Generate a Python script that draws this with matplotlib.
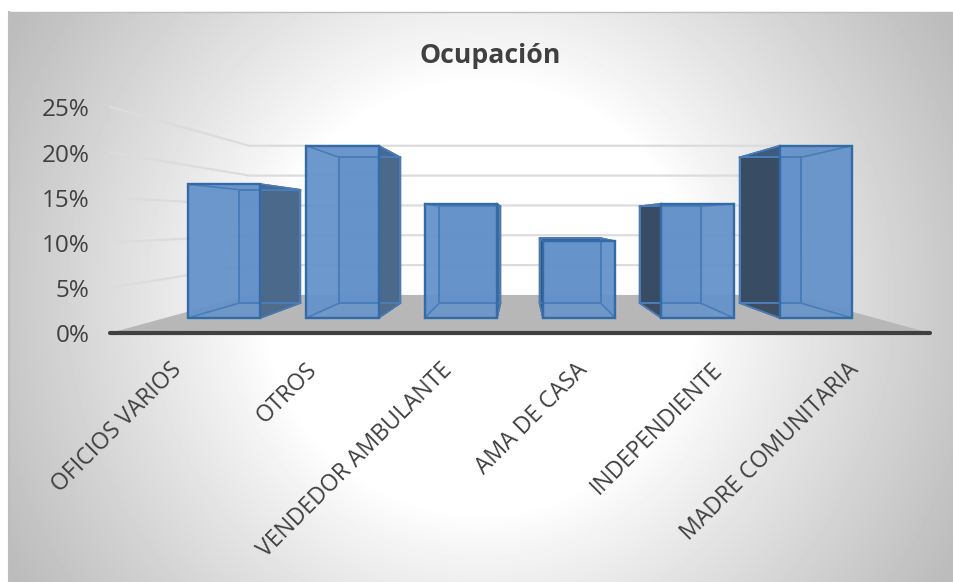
import numpy as np
import matplotlib
matplotlib.use("Agg")
import matplotlib.pyplot as plt
from matplotlib.patches import Polygon

plt.rcParams['font.family'] = ['Open Sans', 'DejaVu Sans']

categorias = ['OFICIOS VARIOS', 'OTROS', 'VENDEDOR AMBULANTE', 'AMA DE CASA',
              'INDEPENDIENTE', 'MADRE COMUNITARIA']
valores = [17.1, 22.0, 14.6, 9.8, 14.6, 22.0]
ticks_pct = [0, 5, 10, 15, 20, 25]

# perspectiva del grafico 3D, en pixeles de la figura
W, H = 954, 582
FUGA_X, FUGA_Y = 520, 221
SEMI_ANCHO = 410
ALTO_PISO = 112
PX_POR_PCT = 9.04
ESC_FONDO = 0.66
ESC_BARRA_FRENTE = 0.866
ESC_BARRA_ATRAS = 0.732
ANCHO_BARRA = 0.61


def proy(u, v, esc):
    # u: posicion horizontal en unidades de categoria, v: valor en %
    ancho_cat = 2 * SEMI_ANCHO / len(categorias)
    return (FUGA_X + u * ancho_cat * esc,
            FUGA_Y + (ALTO_PISO - v * PX_POR_PCT) * esc)


fig = plt.figure(figsize=(W / 100, H / 100), dpi=100, facecolor='white')
ax = fig.add_axes([0, 0, 1, 1])

# fondo con degradado radial
yy, xx = np.mgrid[12:H, 9:W]
r = np.hypot(xx - 480, yy - 297)
t = np.clip((r - 215) / 325, 0, 1)
ax.imshow(255 - 67 * t ** 0.9, extent=(9, W, H, 12), cmap='gray', vmin=0, vmax=255,
          interpolation='bilinear', aspect='auto', zorder=0)
ax.plot([9, W], [12, 12], color='#bdbdbd', lw=1, zorder=1)
ax.plot([9.5, 9.5], [12, H], color='#bdbdbd', lw=1.5, zorder=1)

u_max = len(categorias) / 2

# piso
piso = [proy(-u_max, 0, 1), proy(u_max, 0, 1), proy(u_max, 0, ESC_FONDO), proy(-u_max, 0, ESC_FONDO)]
ax.add_patch(Polygon(piso, closed=True, fc='#b7b7b7', ec='none', zorder=2))

# lineas de division: pared izquierda y fondo
for p in ticks_pct[1:]:
    a = proy(-u_max, p, 1)
    b = proy(-u_max, p, ESC_FONDO)
    c = proy(u_max, p, ESC_FONDO)
    ax.plot([a[0], b[0], c[0]], [a[1], b[1], c[1]], color='#dcdcdc', lw=1.6, zorder=3)

# barras
for i, val in enumerate(valores):
    cen = i - (len(valores) - 1) / 2
    u0, u1 = cen - ANCHO_BARRA / 2, cen + ANCHO_BARRA / 2
    f = ESC_BARRA_FRENTE
    b = ESC_BARRA_ATRAS
    frente = [proy(u0, 0, f), proy(u1, 0, f), proy(u1, val, f), proy(u0, val, f)]
    atras = [proy(u0, 0, b), proy(u1, 0, b), proy(u1, val, b), proy(u0, val, b)]
    izq = [proy(u0, 0, f), proy(u0, 0, b), proy(u0, val, b), proy(u0, val, f)]
    der = [proy(u1, 0, f), proy(u1, 0, b), proy(u1, val, b), proy(u1, val, f)]
    arriba = [proy(u0, val, f), proy(u1, val, f), proy(u1, val, b), proy(u0, val, b)]

    # cara interior, se ve a traves del frente
    ax.add_patch(Polygon(atras, closed=True, fc='#5083c0', ec='none', alpha=0.85, zorder=4))

    # la cara lateral oscura depende del lado del punto de fuga
    if cen < 0:
        ax.add_patch(Polygon(der, closed=True, fc='#4a6888', ec='#2f5c94', lw=1.2, alpha=0.95, zorder=5))
        ax.add_patch(Polygon(izq, closed=True, fc='#5083c0', ec='none', alpha=0.5, zorder=5))
    else:
        ax.add_patch(Polygon(izq, closed=True, fc='#36495f', ec='#2f5c94', lw=1.2, alpha=0.95, zorder=5))
        ax.add_patch(Polygon(der, closed=True, fc='#5083c0', ec='none', alpha=0.5, zorder=5))

    # la tapa solo se ve oscura en las barras bajo el punto de fuga
    if arriba[0][1] > FUGA_Y:
        ax.add_patch(Polygon(arriba, closed=True, fc='#3a6698', ec='#2f5c94', lw=1.2, zorder=5))
    else:
        ax.add_patch(Polygon(arriba, closed=True, fc='#3a6698', ec='none', alpha=0.5, zorder=5))

    ax.add_patch(Polygon(frente, closed=True, fc='#6593cb', ec='none', alpha=0.88, zorder=6))
    # aristas interiores, apagadas por el frente
    ax.add_patch(Polygon(atras, closed=True, fc='none', ec='#4a7db8', lw=1.4, zorder=6))
    for k in range(4):
        ax.plot([frente[k][0], atras[k][0]], [frente[k][1], atras[k][1]], color='#4a7db8', lw=1.2, zorder=6)
    ax.add_patch(Polygon(frente, closed=True, fc='none', ec='#336aa8', lw=1.7, zorder=7))

# eje de categorias
a = proy(-u_max, 0, 1)
b = proy(u_max, 0, 1)
ax.plot([a[0], b[0]], [a[1], b[1]], color='#404040', lw=3, solid_capstyle='round', zorder=8)

# etiquetas del eje de valores
for p in ticks_pct:
    ax.text(89.5, proy(-u_max, p, 1)[1] + 3.5, f'{p}%', ha='right', va='center',
            fontsize=17.5, color='#404040', zorder=9)

# etiquetas de categorias
for i, cat in enumerate(categorias):
    cen = i - (len(categorias) - 1) / 2
    x0 = proy(cen, 0, 0.99)[0]
    ax.text(x0 - 12, 358, cat, rotation=45, rotation_mode='anchor', ha='right', va='top',
            fontsize=16.6, color='#404040', zorder=9)

ax.text(490, 56, 'Ocupación', ha='center', va='center', fontsize=19.2,
        fontweight='bold', color='#404040', zorder=9)

ax.set_xlim(0, W)
ax.set_ylim(H, 0)
ax.axis('off')
fig.savefig('out.png', dpi=100, facecolor='white')
